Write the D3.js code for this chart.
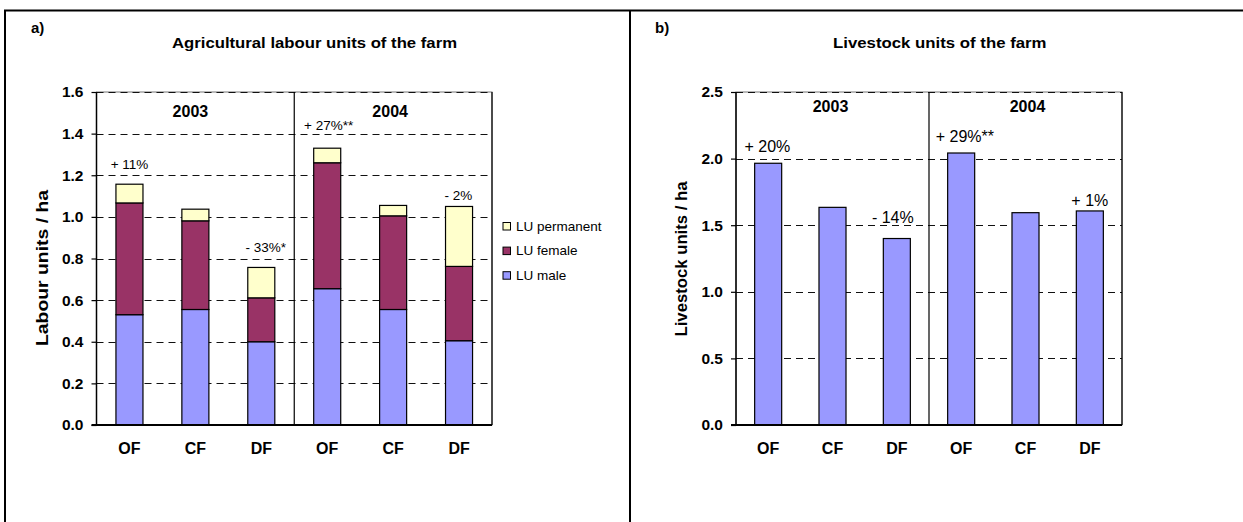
<!DOCTYPE html>
<html><head><meta charset="utf-8">
<script src="https://cdn.jsdelivr.net/npm/d3@7"></script>
<style>
body{margin:0;background:#fff}
text{font-family:Arial,"Liberation Sans",sans-serif;fill:#000}
</style>
</head><body><svg id="c" width="1243" height="522"></svg>
<script>
// ---------- data ----------
const years = ["2003", "2004"];
const farms = ["OF", "CF", "DF"];
const seriesNames = ["LU male", "LU female", "LU permanent"];
const luMale      = [0.53, 0.555, 0.40, 0.655, 0.555, 0.405];
const luFemale    = [0.537, 0.426, 0.211, 0.605, 0.45, 0.357];
const luPermanent = [0.09, 0.056, 0.146, 0.07, 0.05, 0.288];
const labourNotes = ["+ 11%", "", "- 33%*", "+ 27%**", "", "- 2%"];
const livestock = [1.965, 1.634, 1.40, 2.042, 1.594, 1.607];
const livestockNotes = ["+ 20%", "", "- 14%", "+ 29%**", "", "+ 1%"];
const labourTicks = [0, 0.2, 0.4, 0.6, 0.8, 1.0, 1.2, 1.4, 1.6];
const livestockTicks = [0, 0.5, 1.0, 1.5, 2.0, 2.5];

// ---------- layout ----------
const svg = d3.select("#c");
const FONT = 'Arial,"Liberation Sans",sans-serif';
const colors = {"LU male": "#9999FF", "LU female": "#993366", "LU permanent": "#FFFFCC"};
const cats = years.flatMap(y => farms.map(f => y + "|" + f));
// label offsets (px) relative to bar top / centre
const labourNoteOff = [[0, -15.5], null, [4.5, -15.3], [1.5, -18], null, [-0.7, -6.3]];
const livestockNoteOff = [[-0.8, -11.3], null, [-4, -16], [3.7, -11.3], null, [0, -5]];

// outer frame
svg.append("line").attr("x1", 4).attr("x2", 1243).attr("y1", 10.5).attr("y2", 10.5).attr("stroke", "#000").attr("stroke-width", 2);
svg.append("line").attr("x1", 5).attr("x2", 5).attr("y1", 10).attr("y2", 522).attr("stroke", "#000").attr("stroke-width", 2);
svg.append("line").attr("x1", 630).attr("x2", 630).attr("y1", 10).attr("y2", 522).attr("stroke", "#000").attr("stroke-width", 2);

function panel(o) {
  const g = svg.append("g");
  const x = d3.scaleBand().domain(cats).range([o.x0, o.x1]).paddingInner(o.pad).paddingOuter(o.pad / 2);
  const y = d3.scaleLinear().domain([0, o.max]).range([o.y1, o.y0]);

  // plot border
  g.append("rect").attr("x", o.x0).attr("y", o.y0).attr("width", o.x1 - o.x0).attr("height", o.y1 - o.y0)
    .attr("fill", "none").attr("stroke", "#777").attr("stroke-width", 1);
  // grid lines
  g.append("g").selectAll("line").data(o.ticks.filter(t => t > 0)).join("line")
    .attr("x1", o.x0).attr("x2", o.x1).attr("y1", d => Math.round(y(d)) + 0.5).attr("y2", d => Math.round(y(d)) + 0.5)
    .attr("stroke", "#111").attr("stroke-width", 1).attr("stroke-dasharray", "7,5");
  // right border
  g.append("line").attr("x1", o.x1).attr("x2", o.x1).attr("y1", o.y0).attr("y2", o.y1).attr("stroke", "#000").attr("stroke-width", 1.2);
  // year divider
  const xm = (o.x0 + o.x1) / 2;
  g.append("line").attr("x1", xm).attr("x2", xm).attr("y1", o.y0).attr("y2", o.y1).attr("stroke", "#000").attr("stroke-width", 1.2);

  // bars
  o.drawBars(g, x, y);

  // y axis
  const ya = g.append("g").attr("transform", `translate(${o.x0},0)`)
    .call(d3.axisLeft(y).tickValues(o.ticks).tickFormat(d3.format(".1f")).tickSize(5).tickPadding(8));
  ya.select(".domain").remove();
  ya.selectAll(".tick line").attr("stroke", "#000").attr("stroke-width", 1.2);
  ya.selectAll(".tick text").attr("font-family", FONT).attr("font-size", 15.5).attr("font-weight", "bold").attr("fill", "#000");
  g.append("line").attr("x1", o.x0).attr("x2", o.x0).attr("y1", o.y0).attr("y2", o.y1).attr("stroke", "#000").attr("stroke-width", 1.5);

  // x axis
  const xa = g.append("g").attr("transform", `translate(0,${o.y1})`)
    .call(d3.axisBottom(x).tickSize(0).tickPadding(18).tickFormat(d => d.split("|")[1]));
  xa.select(".domain").remove();
  xa.selectAll(".tick text").attr("font-family", FONT).attr("font-size", 16).attr("font-weight", "bold").attr("fill", "#000");
  g.append("line").attr("x1", o.x0 - 5).attr("x2", o.x1).attr("y1", o.y1).attr("y2", o.y1).attr("stroke", "#000").attr("stroke-width", 2);

  // year labels
  g.selectAll(".yr").data(years).join("text")
    .attr("x", (d, i) => o.x0 + (o.x1 - o.x0) * (i + 0.5) / 2 + o.yearDx[i])
    .attr("y", o.yearY).attr("text-anchor", "middle")
    .attr("font-size", 16).attr("font-weight", "bold").text(d => d);

  // notes
  g.selectAll(".note").data(o.notes.map((t, i) => ({t, i})).filter(d => d.t)).join("text")
    .attr("x", d => x(cats[d.i]) + x.bandwidth() / 2 + o.noteOff[d.i][0])
    .attr("y", d => y(o.tops[d.i]) + o.noteOff[d.i][1])
    .attr("text-anchor", "middle").attr("font-size", o.noteSize).text(d => d.t);

  // panel letter and title
  g.append("text").attr("x", o.letterX).attr("y", 33).attr("font-size", 15).attr("font-weight", "bold").text(o.letter);
  g.append("text").attr("x", o.titleX).attr("y", 48).attr("font-size", 15.5).attr("font-weight", "bold")
    .attr("textLength", o.titleLen).attr("lengthAdjust", "spacingAndGlyphs").text(o.title);
  // y label
  g.append("text").attr("transform", `translate(${o.ylabX},${o.ylabY}) rotate(-90)`)
    .attr("text-anchor", "middle").attr("dy", "0.35em").attr("font-size", 16).attr("font-weight", "bold")
    .attr("textLength", o.ylabLen).attr("lengthAdjust", "spacingAndGlyphs").text(o.ylab);
  return {x, y};
}

// ---------- panel a ----------
const labourRows = cats.map((c, i) => ({cat: c, "LU male": luMale[i], "LU female": luFemale[i], "LU permanent": luPermanent[i]}));
const stacked = d3.stack().keys(seriesNames)(labourRows);
const labourTops = labourRows.map(r => r["LU male"] + r["LU female"] + r["LU permanent"]);

panel({
  x0: 96.5, x1: 492, y0: 92, y1: 425, max: 1.6, pad: 0.59, ticks: labourTicks,
  yearY: 117, yearDx: [-5, -3],
  notes: labourNotes, tops: labourTops, noteOff: labourNoteOff, noteSize: 13.5,
  letter: "a)", letterX: 31, title: "Agricultural labour units of the farm", titleX: 172, titleLen: 285,
  ylab: "Labour units / ha", ylabX: 42.5, ylabY: 268, ylabLen: 156,
  drawBars: (g, x, y) => {
    g.append("g").selectAll("g").data(stacked).join("g").attr("fill", d => colors[d.key])
      .selectAll("rect").data(d => d).join("rect")
      .attr("x", d => x(d.data.cat)).attr("width", x.bandwidth())
      .attr("y", d => y(d[1])).attr("height", d => y(d[0]) - y(d[1]))
      .attr("stroke", "#000").attr("stroke-width", 1.2);
  }
});

// legend
const leg = svg.append("g").selectAll("g").data(seriesNames.slice().reverse()).join("g")
  .attr("transform", (d, i) => `translate(503,${222.5 + i * 24.6})`);
leg.append("rect").attr("width", 7.5).attr("height", 7.5).attr("fill", d => colors[d]).attr("stroke", "#000").attr("stroke-width", 1);
leg.append("text").attr("x", 13).attr("y", 8).attr("font-size", 13.5).text(d => d);

// ---------- panel b ----------
panel({
  x0: 736, x1: 1122, y0: 92, y1: 425, max: 2.5, pad: 0.58, ticks: livestockTicks,
  yearY: 112, yearDx: [-2, 2],
  notes: livestockNotes, tops: livestock, noteOff: livestockNoteOff, noteSize: 16,
  letter: "b)", letterX: 655, title: "Livestock units of the farm", titleX: 833, titleLen: 213.5,
  ylab: "Livestock units / ha", ylabX: 681, ylabY: 259, ylabLen: 155,
  drawBars: (g, x, y) => {
    g.append("g").selectAll("rect").data(livestock).join("rect")
      .attr("x", (d, i) => x(cats[i])).attr("width", x.bandwidth())
      .attr("y", d => y(d)).attr("height", d => y(0) - y(d))
      .attr("fill", "#9999FF").attr("stroke", "#000").attr("stroke-width", 1.2);
  }
});
</script>
</body></html>
